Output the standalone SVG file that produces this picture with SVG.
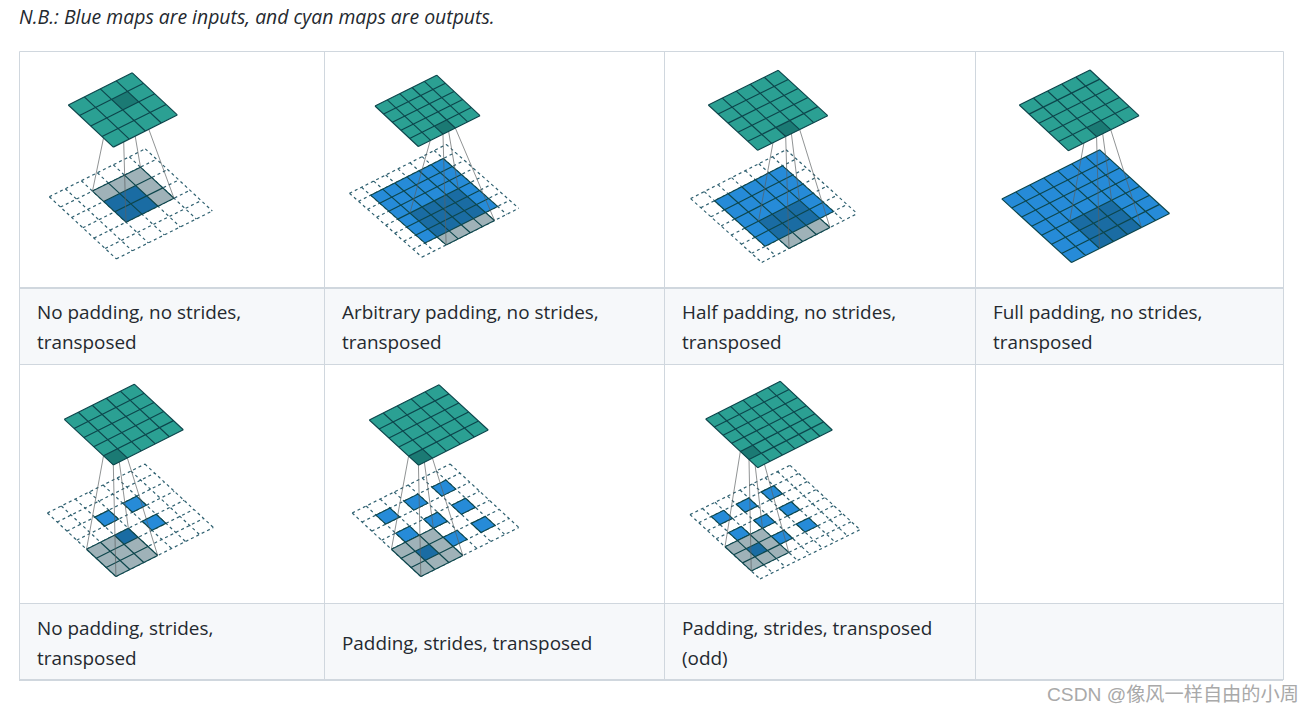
<svg xmlns="http://www.w3.org/2000/svg" width="1313" height="713" viewBox="0 0 1313 713">
<style>
text{font-family:"Open Sans","Noto Sans","Liberation Sans",sans-serif;font-size:18.9px;fill:#24292f}
.note{font-style:italic;font-size:19.4px}
.wm{font-family:"Liberation Sans","Noto Sans CJK SC",sans-serif;font-size:19.2px;fill:#a9a9a9}
path{vector-effect:non-scaling-stroke}
.b{fill:none;stroke:#d0d7de;stroke-width:1}
.h{fill:none;stroke:#d0d7de;stroke-width:2}
.g{fill:none;stroke:#0d464c;stroke-width:1.15}
.d{fill:none;stroke:#2f6070;stroke-width:1.2;stroke-dasharray:3 3}
.teal{fill:#2ba093}.dteal{fill:#1b7a74}.blue{fill:#268bd8}.dblue{fill:#1a6ca3}.gray{fill:#9fb2b8}
.k{stroke:#5a5f60;stroke-width:.8;stroke-opacity:.85;fill:none}
</style>
<defs>
<path id="g3" d="M0 0H3M0 1H3M0 2H3M0 3H3M0 0V3M1 0V3M2 0V3M3 0V3"/>
<path id="g4" d="M0 0H4M0 1H4M0 2H4M0 3H4M0 4H4M0 0V4M1 0V4M2 0V4M3 0V4M4 0V4"/>
<path id="g5" d="M0 0H5M0 1H5M0 2H5M0 3H5M0 4H5M0 5H5M0 0V5M1 0V5M2 0V5M3 0V5M4 0V5M5 0V5"/>
<path id="g6" d="M0 0H6M0 1H6M0 2H6M0 3H6M0 4H6M0 5H6M0 6H6M0 0V6M1 0V6M2 0V6M3 0V6M4 0V6M5 0V6M6 0V6"/>
<path id="g7" d="M0 0H7M0 1H7M0 2H7M0 3H7M0 4H7M0 5H7M0 6H7M0 7H7M0 0V7M1 0V7M2 0V7M3 0V7M4 0V7M5 0V7M6 0V7M7 0V7"/>
<path id="g8" d="M0 0H8M0 1H8M0 2H8M0 3H8M0 4H8M0 5H8M0 6H8M0 7H8M0 8H8M0 0V8M1 0V8M2 0V8M3 0V8M4 0V8M5 0V8M6 0V8M7 0V8M8 0V8"/>
<path id="sparse" d="M1 1H2V2H1ZM3 1H4V2H3ZM5 1H6V2H5ZM1 3H2V4H1ZM3 3H4V4H3ZM5 3H6V4H5ZM3 5H4V6H3ZM5 5H6V6H5Z"/>
</defs>
<rect width="1313" height="713" fill="#fff"/>
<g id="table">
<rect x="19" y="288" width="1264" height="76" fill="#f6f8fa"/>
<rect x="19" y="603" width="1264" height="77" fill="#f6f8fa"/>
<path class="b" d="M19.5 51.5H1283.5V680M19.5 51.5V680M324.5 51.5V680M664.5 51.5V680M975.5 51.5V680M19 364.5H1283M19 603.5H1283"/>
<path class="h" d="M19 288H1283M19 680H1283"/>
</g>
<text class="note" x="19" y="24">N.B.: Blue maps are inputs, and cyan maps are outputs.</text>

<g id="input-1" transform="matrix(16 -7.98 11.17 10.36 49.3 196.7)">
<use href="#g6" class="d"/>
<path class="gray" d="M2 1H5V4H2Z"/><path class="dblue" d="M2 2H4V4H2Z"/>
<use href="#g3" class="g" transform="translate(2 1)"/>
</g>
<g id="input-2" transform="matrix(12.1 -6.11 9.06 7.98 349.46 193.32)">
<use href="#g8" class="d"/>
<path class="blue" d="M1 1H7V7H1Z"/><path class="gray" d="M2 7H6V8H2Z"/><path class="dblue" d="M2 4H6V7H2Z"/>
<use href="#g6" class="g" transform="translate(1 1)"/>
<path class="g" d="M2 8H6M2 7V8M3 7V8M4 7V8M5 7V8M6 7V8"/>
</g>
<g id="input-3" transform="matrix(13.64 -6.98 10.16 9.12 690.63 198.59)">
<use href="#g7" class="d"/>
<path class="blue" d="M1 1H6V6H1Z"/><path class="gray" d="M2 6H5V7H2Z"/><path class="dblue" d="M2 4H5V6H2Z"/>
<use href="#g5" class="g" transform="translate(1 1)"/>
<path class="g" d="M2 7H5M2 6V7M3 6V7M4 6V7M5 6V7"/>
</g>
<g id="input-4" transform="matrix(14 -7.01 9.96 9.09 1001.79 198.9)">
<path class="blue" d="M0 0H7V7H0Z"/><path class="dblue" d="M2 4H5V7H2Z"/>
<use href="#g7" class="g"/>
</g>
<g id="input-5" transform="matrix(13.93 -6.99 9.79 9.07 47.38 512.97)">
<use href="#g7" class="d"/>
<path class="blue" d="M2 2H3V3H2ZM4 2H5V3H4ZM4 4H5V5H4Z"/>
<path class="g" d="M2 2H3V3H2ZM4 2H5V3H4ZM4 4H5V5H4Z"/>
<path class="gray" d="M0 4H3V7H0Z"/><path class="dblue" d="M2 4H3V5H2Z"/>
<use href="#g3" class="g" transform="translate(0 4)"/>
</g>
<g id="input-6" transform="matrix(14 -6.99 9.81 9.07 352.17 512.97)">
<use href="#g7" class="d"/>
<use href="#sparse" class="blue"/><use href="#sparse" class="g"/>
<path class="gray" d="M0 4H3V7H0Z"/><path class="dblue" d="M1 5H2V6H1Z"/>
<use href="#g3" class="g" transform="translate(0 4)"/>
</g>
<g id="input-7" transform="matrix(12.5 -6.16 8.75 8.04 690 514.63)">
<use href="#g8" class="d"/>
<use href="#sparse" class="blue"/><use href="#sparse" class="g"/>
<path class="gray" d="M0 4H3V7H0Z"/><path class="dblue" d="M1 5H2V6H1Z"/>
<use href="#g3" class="g" transform="translate(0 4)"/>
</g>

<g id="connectors" class="k">
<path d="M111.55 99.43L92.47 191.1M127.55 91.38L140.47 167.16M138.8 101.91L173.98 198.24M122.8 109.96L125.98 222.18"/>
<path d="M434.32 126.08L409.9 213.02M446.66 119.92L458.3 188.58M455.32 128.02L494.54 220.5M442.98 134.18L446.14 244.94"/>
<path d="M775.82 127.42L758.55 221.11M789.82 120.49L799.47 200.17M799.7 129.56L829.95 227.53M785.7 136.49L789.03 248.47"/>
<path d="M1086.78 127.56L1069.63 221.24M1100.92 120.56L1111.63 200.21M1110.72 129.7L1141.51 227.48M1096.58 136.7L1099.51 248.51"/>
<path d="M103.5 455.78L86.54 549.25M117.5 448.75L128.33 528.28M127.3 457.87L157.7 555.49M113.3 464.9L115.91 576.46"/>
<path d="M408.62 456.12L391.41 549.25M422.58 449.09L433.41 528.28M432.41 458.12L462.84 555.49M418.45 465.15L420.84 576.46"/>
<path d="M740.34 451.44L725 546.79M752.78 445.16L762.5 528.31M761.44 453.27L788.75 552.43M749 459.55L751.25 570.91"/>
</g>

<g id="output-1" transform="matrix(16 -8.05 11.25 10.53 68.3 105)">
<path class="teal" d="M0 0H4V4H0Z"/><path class="dteal" d="M2 1H3V2H2Z"/><use href="#g4" class="g"/>
</g>
<g id="output-2" transform="matrix(12.34 -6.16 8.66 8.1 375 106)">
<path class="teal" d="M0 0H5V5H0Z"/><path class="dteal" d="M2 4H3V5H2Z"/><use href="#g5" class="g"/>
</g>
<g id="output-3" transform="matrix(14 -6.93 9.88 9.07 708.3 105)">
<path class="teal" d="M0 0H5V5H0Z"/><path class="dteal" d="M2 4H3V5H2Z"/><use href="#g5" class="g"/>
</g>
<g id="output-4" transform="matrix(14.14 -7 9.8 9.14 1019.3 105)">
<path class="teal" d="M0 0H5V5H0Z"/><path class="dteal" d="M2 4H3V5H2Z"/><use href="#g5" class="g"/>
</g>
<g id="output-5" transform="matrix(14 -7.03 9.8 9.12 64.3 419.3)">
<path class="teal" d="M0 0H5V5H0Z"/><path class="dteal" d="M0 4H1V5H0Z"/><use href="#g5" class="g"/>
</g>
<g id="output-6" transform="matrix(13.96 -7.03 9.83 9.03 369.3 420)">
<path class="teal" d="M0 0H5V5H0Z"/><path class="dteal" d="M0 4H1V5H0Z"/><use href="#g5" class="g"/>
</g>
<g id="output-7" transform="matrix(12.44 -6.28 8.66 8.11 705.7 419)">
<path class="teal" d="M0 0H6V6H0Z"/><path class="dteal" d="M0 4H1V5H0Z"/><use href="#g6" class="g"/>
</g>

<g id="captions">
<text x="37" y="319">No padding, no strides,</text><text x="37" y="349">transposed</text>
<text x="342" y="319">Arbitrary padding, no strides,</text><text x="342" y="349">transposed</text>
<text x="682" y="319">Half padding, no strides,</text><text x="682" y="349">transposed</text>
<text x="993" y="319">Full padding, no strides,</text><text x="993" y="349">transposed</text>
<text x="37" y="635">No padding, strides,</text><text x="37" y="665">transposed</text>
<text x="342" y="650">Padding, strides, transposed</text>
<text x="682" y="635">Padding, strides, transposed</text><text x="682" y="665">(odd)</text>
</g>
<text class="wm" x="1047" y="701">CSDN @像风一样自由的小周</text>
</svg>
